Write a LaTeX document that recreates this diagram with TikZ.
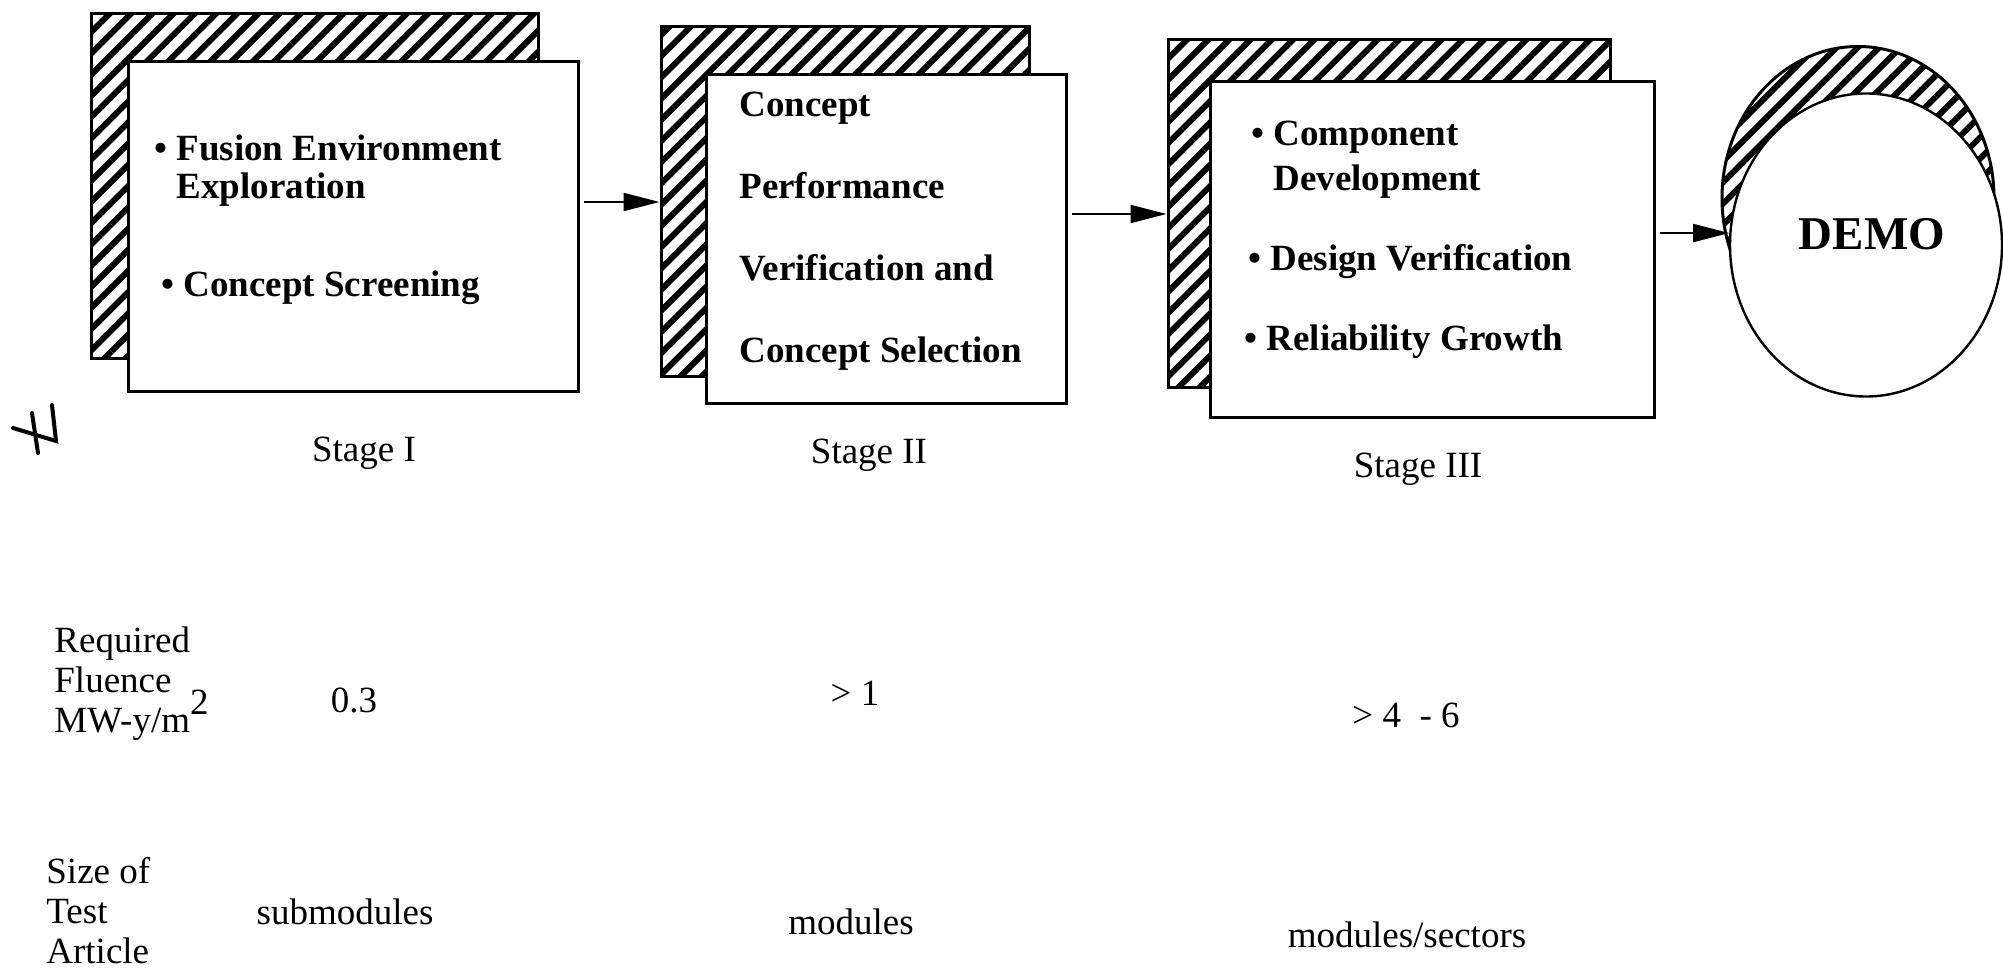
\documentclass[tikz,border=0pt]{standalone}
\usepackage{fontspec}
\setmainfont{Liberation Serif}
\usetikzlibrary{shapes.geometric,patterns.meta,arrows.meta}

\tikzset{%
  every node/.style={
    inner sep=0pt
  },
  hatchbox/.style={draw, line width=1.5pt,
    pattern={Lines[angle=45,distance=7.5pt,line width=3pt]}},
  card/.style={draw, line width=1.5pt, fill=white},
  cardtext/.style={font=\bfseries\fontsize{18.5}{19}\selectfont, align=left, anchor=west},
  rowtext/.style={font=\fontsize{18.5}{20}\selectfont},
  link/.style={line width=1pt, shorten <=2pt, -{Triangle[length=18pt,width=9pt]}}
}

\begin{document}
\begin{tikzpicture}[x=0.5pt,y=-0.5pt]
      \useasboundingbox (0,0) rectangle (2003,972);
      % stage I
      \node[hatchbox, minimum width=223.5pt, minimum height=172.5pt] (b1) at (314.5,186.5) {};
      \node[card, minimum width=225pt, minimum height=165pt] (s1) at (353,227) {};
      \node[cardtext] (t1a) at (154,171) {• Fusion Environment\\\phantom{• }Exploration};
      \node[cardtext] (t1b) at (161,288) {• Concept Screening};
      % stage II
      \node[hatchbox, minimum width=184pt, minimum height=175pt] (b2) at (845,202) {};
      \node[card, minimum width=180pt, minimum height=164.5pt] (s2) at (886,239.5) {};
      \node[cardtext, font=\bfseries\fontsize{18.5}{41}\selectfont] (t2) at (739,231)
        {Concept\\Performance\\Verification and\\Concept Selection};
      % stage III
      \node[hatchbox, minimum width=221pt, minimum height=174pt] (b3) at (1389,214) {};
      \node[card, minimum width=222pt, minimum height=168pt] (s3) at (1432,250) {};
      \node[cardtext, font=\bfseries\fontsize{18.5}{22.5}\selectfont] (t3a) at (1251,160)
        {• Component\\\phantom{• }Development};
      \node[cardtext] (t3b) at (1248,262) {• Design Verification};
      \node[cardtext] (t3c) at (1244,342) {• Reliability Growth};
      % DEMO
      \node[hatchbox, ellipse, minimum width=136pt, minimum height=151.5pt] (b4) at (1858,198) {};
      \node[card, ellipse, line width=1.2pt, minimum width=136pt, minimum height=151.5pt] (demo) at (1866,245) {};
      \node[font=\bfseries\fontsize{23.5}{24}\selectfont] (demotext) at (1872,234) {DEMO};
      \draw[link] (s1.east |- b2.west) -- (b2.west);
      \draw[link] (s2.east |- b3.west) -- (b3.west);
      \draw[link] (s3.east |- demo.175) -- (demo.175);
      \node[rowtext] (l1) at (364,453) {Stage I};
      \node[rowtext] (l2) at (869,455) {Stage II};
      \node[rowtext] (l3) at (1418,469) {Stage III};
      % pen mark
      \draw[line width=2pt, line cap=round] (32,413) -- (38,453);
      \draw[line width=2pt, line cap=round] (13,428) -- (56,441) -- (52,405);
      % rows
      \node[rowtext, align=left, anchor=west] (fluence) at (54,684)
        {Required\\Fluence\\MW-y/m\smash{\raisebox{9pt}{2}}};
      \node[rowtext] (f1) at (354,700) {0.3};
      \node[rowtext] (f2) at (855,693) {> 1};
      \node[rowtext] (f3) at (1406,715) {> 4\ \ - 6};
      \node[rowtext, align=left, anchor=west] (size) at (46,911) {Size of\\Test\\Article};
      \node[rowtext] (a1) at (345,912) {submodules};
      \node[rowtext] (a2) at (851,922) {modules};
      \node[rowtext] (a3) at (1407,935) {modules/sectors};
    \end{tikzpicture}
\end{document}
